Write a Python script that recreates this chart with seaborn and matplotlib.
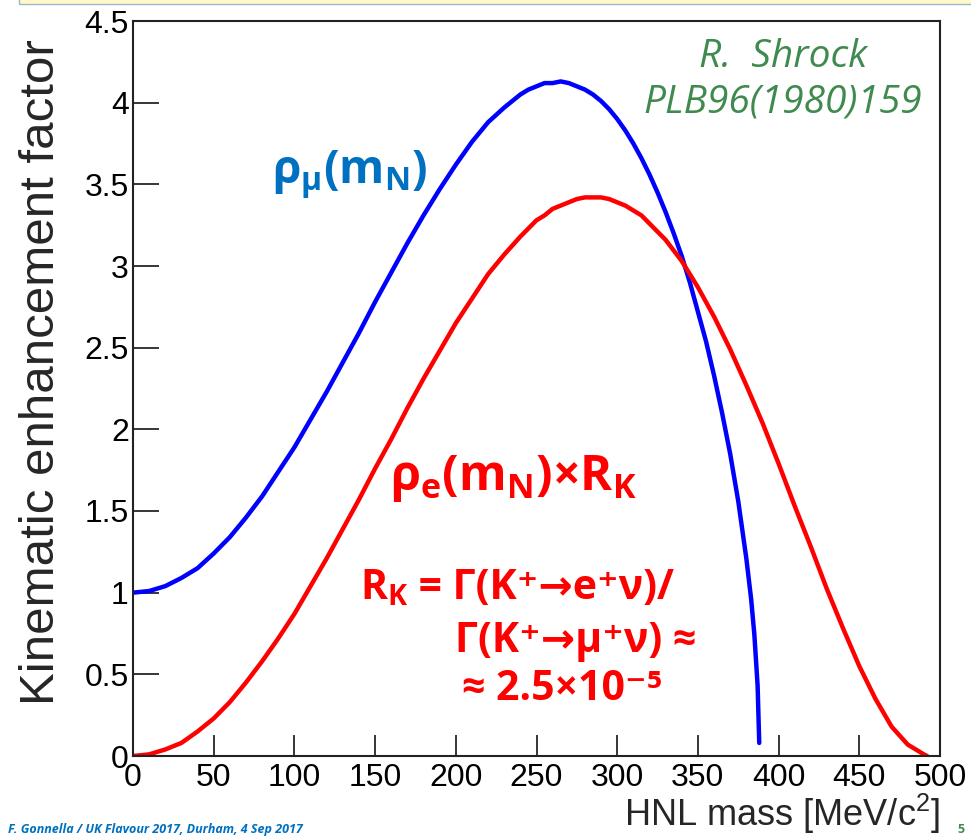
import numpy as np
import pandas as pd
import seaborn as sns
import matplotlib
matplotlib.use("Agg")
import matplotlib.pyplot as plt
from matplotlib.ticker import MultipleLocator
from matplotlib.patches import Rectangle

# ---------------- data ----------------
mass_mu = [0, 10, 20, 30, 40, 50, 60, 70, 80, 90, 100, 110, 120, 130, 140, 150,
           160, 170, 180, 190, 200, 210, 220, 230, 235, 240, 245, 250, 255, 260,
           265, 270, 275, 280, 285, 290, 295, 300, 305, 310, 315, 320, 325, 330,
           335, 340, 345, 350, 355, 360, 365, 370, 375, 380, 383, 385, 387, 388]
rho_mu = [1.00, 1.01, 1.04, 1.09, 1.15, 1.24, 1.34, 1.46, 1.59, 1.74, 1.89,
          2.06, 2.23, 2.41, 2.59, 2.78, 2.96, 3.14, 3.31, 3.47, 3.62, 3.76,
          3.88, 3.97, 4.01, 4.05, 4.08, 4.10, 4.12, 4.12, 4.13, 4.12, 4.10,
          4.08, 4.05, 4.01, 3.96, 3.90, 3.83, 3.75, 3.66, 3.56, 3.45, 3.33,
          3.20, 3.06, 2.90, 2.72, 2.54, 2.33, 2.10, 1.85, 1.56, 1.21, 0.96,
          0.74, 0.43, 0.08]

mass_e = [0, 10, 20, 30, 40, 50, 60, 70, 80, 90, 100, 110, 120, 130, 140, 150,
          160, 170, 180, 190, 200, 210, 220, 230, 240, 245, 250, 255, 260, 265,
          270, 275, 280, 285, 290, 295, 300, 305, 310, 315, 320, 325, 330, 340,
          350, 360, 370, 380, 390, 400, 410, 420, 430, 440, 450, 460, 470, 480,
          490, 492]
rho_e_rk = [0.00, 0.01, 0.04, 0.08, 0.15, 0.23, 0.33, 0.45, 0.58, 0.72, 0.87,
            1.04, 1.21, 1.39, 1.57, 1.76, 1.94, 2.13, 2.31, 2.48, 2.65, 2.80,
            2.95, 3.07, 3.18, 3.23, 3.28, 3.31, 3.35, 3.37, 3.39, 3.41, 3.42,
            3.42, 3.42, 3.41, 3.39, 3.37, 3.34, 3.31, 3.26, 3.21, 3.16, 3.03,
            2.87, 2.69, 2.49, 2.27, 2.04, 1.79, 1.53, 1.28, 1.02, 0.78, 0.55,
            0.35, 0.18, 0.07, 0.01, 0.00]

x_ticks = [0, 50, 100, 150, 200, 250, 300, 350, 400, 450, 500]
y_ticks = [0, 0.5, 1, 1.5, 2, 2.5, 3, 3.5, 4, 4.5]
y_tick_labels = ["0", "0.5", "1", "1.5", "2", "2.5", "3", "3.5", "4", "4.5"]

df_mu = pd.DataFrame({"mass": mass_mu, "rho": rho_mu})
df_e = pd.DataFrame({"mass": mass_e, "rho": rho_e_rk})

# ---------------- style ----------------
sns.set_theme(style="white")
plt.rcParams["font.family"] = ["Liberation Sans", "DejaVu Sans"]
plt.rcParams["mathtext.default"] = "regular"

W, H = 971, 838
fig = plt.figure(figsize=(W / 100, H / 100), dpi=100)
fig.patch.set_facecolor("white")
ax = fig.add_axes([133 / W, 1 - 756 / H, (940 - 133) / W, (756 - 21) / H])

sns.lineplot(data=df_mu, x="mass", y="rho", ax=ax, color="#0000FF", lw=3.2,
             sort=False, estimator=None)
sns.lineplot(data=df_e, x="mass", y="rho", ax=ax, color="#FF0000", lw=3.2,
             sort=False, estimator=None)

ax.set_xlim(0, 500)
ax.set_ylim(0, 4.5)
ax.set_xticks(x_ticks)
ax.set_xticklabels([str(v) for v in x_ticks])
ax.set_yticks(y_ticks)
ax.set_yticklabels(y_tick_labels)
ax.xaxis.set_minor_locator(MultipleLocator(10))
ax.yaxis.set_minor_locator(MultipleLocator(0.1))

ax.tick_params(axis="both", which="both", direction="in", colors="black",
               width=1.1, labelsize=23)
ax.tick_params(axis="x", which="major", length=15, pad=5)
ax.tick_params(axis="x", which="minor", length=8)
ax.tick_params(axis="y", which="major", length=19, pad=3)
ax.tick_params(axis="y", which="minor", length=9.5)
ax.tick_params(top=False, right=False, bottom=True, left=True)
for s in ax.spines.values():
    s.set_color("#222222")
    s.set_linewidth(1.5)

ax.set_xlabel("HNL mass [MeV/c$^{2}$]", fontsize=26, loc="right")
ax.xaxis.set_label_coords(1.0, -0.049)
ax.xaxis.label.set_va("top")
ax.set_ylabel("Kinematic enhancement factor", fontsize=35.5)
ax.yaxis.set_label_coords(-0.086, 0.522)

# ---------------- annotations ----------------
slide = ["Open Sans", "DejaVu Sans"]
RED = "#FF0000"
ax.text(0.172, 0.79, r"$ρ_{μ}(m_{N})$", transform=ax.transAxes,
        color="#0070C0", fontsize=33, fontweight="bold", family=slide,
        ha="left", va="center")
ax.text(0.318, 0.377, r"$ρ_{e}(m_{N})$×$R_{K}$", transform=ax.transAxes,
        color=RED, fontsize=35, fontweight="bold", family=slide,
        ha="left", va="center")

eq_size = 29.5
t1 = ax.text(0.281, 0.2136, r"$R_{K}$", transform=ax.transAxes, color=RED,
             fontsize=eq_size, fontweight="bold", family=slide,
             ha="left", va="baseline")
ax.text(0.399, 0.1415, "Γ(K⁺→μ⁺ν) ≈", transform=ax.transAxes, color=RED,
        fontsize=eq_size, fontweight="bold", family=slide,
        ha="left", va="baseline")
ax.text(0.408, 0.0762, "≈ 2.5×10⁻⁵", transform=ax.transAxes, color=RED,
        fontsize=eq_size, fontweight="bold", family=slide,
        ha="left", va="baseline")

ax.text(0.805, 0.951, "R.  Shrock", transform=ax.transAxes,
        color="#3F8A4E", fontsize=28, style="italic", family=slide,
        ha="center", va="center")
ax.text(0.805, 0.889, "PLB96(1980)159", transform=ax.transAxes,
        color="#3F8A4E", fontsize=28, style="italic", family=slide,
        ha="center", va="center")

# slide decorations: yellow title strip on top and footer
fig.patches.append(Rectangle((19 / W, 1 - 4 / H), 1, 10 / H,
                             transform=fig.transFigure, facecolor="#FFF8C8",
                             edgecolor="#9FB4CF", lw=1.0))
fig.text(8 / W, 2 / H, "F. Gonnella / UK Flavour 2017, Durham, 4 Sep 2017",
         color="#0070C0", fontsize=9, fontweight="bold", style="italic",
         family=slide, ha="left", va="bottom")
fig.text(957 / W, 2 / H, "5", color="#3F8A4E", fontsize=9,
         fontweight="bold", family=slide, ha="left", va="bottom")

# continue the first equation line right after the R_K symbol
fig.canvas.draw()
bb = t1.get_window_extent()
x2 = ax.transAxes.inverted().transform((bb.x1, bb.y0))[0]
ax.text(x2, 0.2136, " = Γ(K⁺→e⁺ν)/", transform=ax.transAxes, color=RED,
        fontsize=eq_size, fontweight="bold", family=slide,
        ha="left", va="baseline")

fig.savefig("out.png", dpi=100, facecolor="white")
